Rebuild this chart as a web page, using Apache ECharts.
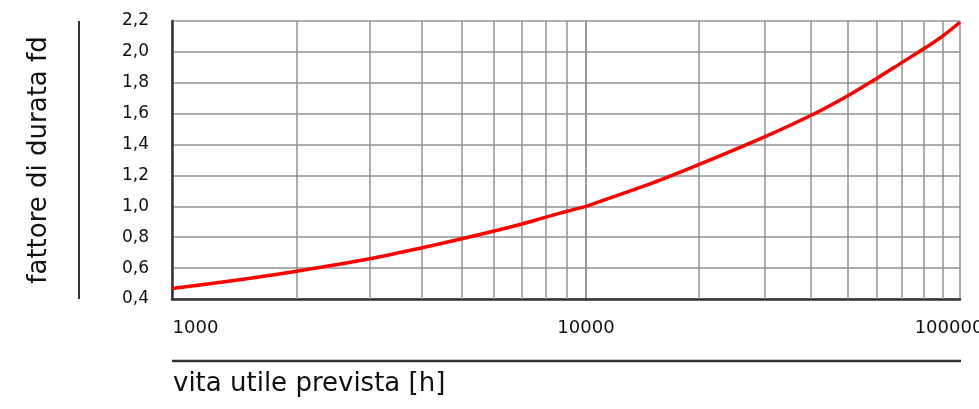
<!DOCTYPE html>
<html>
<head>
<meta charset="utf-8">
<script src="https://cdn.jsdelivr.net/npm/echarts@6/dist/echarts.min.js"></script>
<style>
  html, body { margin: 0; padding: 0; background: #fff; }
  #main { width: 979px; height: 409px; }
</style>
</head>
<body>
<div id="main"></div>
<script>
// ore di vita (asse logaritmico) e fattore di durata
const hours = [1000, 1500, 2000, 3000, 4000, 5000, 6000, 7000, 8000, 9000, 10000,
  15000, 20000, 30000, 40000, 50000, 60000, 70000, 80000, 90000, 100000];
const fd = [0.468, 0.53, 0.58, 0.66, 0.73, 0.79, 0.84, 0.886, 0.93, 0.968, 1.0,
  1.15, 1.27, 1.45, 1.59, 1.715, 1.83, 1.932, 2.02, 2.104, 2.192];

// linee secondarie della griglia (2..9 per decade)
const minorLow = [2000, 3000, 4000, 5000, 6000, 7000, 8000, 9000];
const minorHigh = [20000, 30000, 40000, 50000, 60000, 70000, 80000, 90000];

const yMin = 0.4;
const yMax = 2.2;
const yStep = 0.2;

const gridColor = "#939393";
const axisColor = "#333333";
const textColor = "#111111";
const font = "DejaVu Sans";

const pts = hours.map((h, i) => [h, fd[i]]);
const lowPts = pts.filter((p) => p[0] <= 10000);
const highPts = pts.filter((p) => p[0] >= 10000);

const chart = echarts.init(document.getElementById("main"));

const splitLine = { show: true, lineStyle: { color: gridColor, width: 1.5 } };

const yAxisBase = (idx) => ({
  type: "value",
  gridIndex: idx,
  min: yMin,
  max: yMax,
  interval: yStep,
  axisTick: { show: false },
  splitLine: splitLine,
});

const minorMark = (list) => ({
  silent: true,
  z: 1,
  symbol: "none",
  label: { show: false },
  lineStyle: { color: gridColor, width: 1.5, type: "solid" },
  emphasis: { disabled: true },
  data: list.map((h) => ({ xAxis: h })),
});

const curve = (idx, data, minor) => ({
  type: "line",
  xAxisIndex: idx,
  yAxisIndex: idx,
  z: 10,
  smooth: 0.3,
  showSymbol: false,
  lineStyle: { color: "#ff0000", width: 3.5 },
  data: data,
  markLine: minorMark(minor),
});

const option = {
  animation: false,
  textStyle: { fontFamily: font },
  grid: [
    { left: 172, top: 21, width: 414, height: 278, outerBoundsMode: "none", containLabel: false },
    { left: 586, top: 21, width: 374, height: 278, outerBoundsMode: "none", containLabel: false },
  ],
  xAxis: [
    {
      type: "log",
      logBase: 10,
      gridIndex: 0,
      min: 1000,
      max: 10000,
      axisLine: { lineStyle: { color: axisColor, width: 2.5 } },
      axisTick: { show: false },
      splitLine: splitLine,
      axisLabel: {
        fontSize: 18,
        color: textColor,
        fontFamily: font,
        margin: 20,
        // la prima etichetta parte dall'inizio dell'asse
        formatter: (v) => (Math.round(v) === 1000 ? "{first|" + Math.round(v) + "}" : String(Math.round(v))),
        rich: {
          first: { fontSize: 18, color: textColor, fontFamily: font, padding: [0, 0, 0, 47] },
        },
      },
    },
    {
      type: "log",
      logBase: 10,
      gridIndex: 1,
      min: 10000,
      max: 100000,
      axisLine: { lineStyle: { color: axisColor, width: 2.5 } },
      axisTick: { show: false },
      splitLine: splitLine,
      axisLabel: {
        fontSize: 18,
        color: textColor,
        fontFamily: font,
        margin: 20,
        showMinLabel: false,
        padding: [0, 22, 0, 0],
        formatter: (v) => String(Math.round(v)),
      },
    },
  ],
  yAxis: [
    Object.assign(yAxisBase(0), {
      axisLine: { show: true, lineStyle: { color: axisColor, width: 2.5 } },
      axisLabel: {
        fontSize: 17,
        color: textColor,
        fontFamily: font,
        margin: 23,
        formatter: (v) => v.toFixed(1).replace(".", ","),
      },
      name: "fattore di durata fd",
      nameLocation: "middle",
      nameGap: 120,
      nameTextStyle: { fontSize: 26, color: textColor, fontFamily: font },
    }),
    Object.assign(yAxisBase(1), {
      axisLine: { show: false },
      axisLabel: { show: false },
    }),
  ],
  graphic: [
    {
      type: "line",
      shape: { x1: 79, y1: 21, x2: 79, y2: 299 },
      style: { stroke: axisColor, lineWidth: 2 },
    },
    {
      type: "line",
      shape: { x1: 172, y1: 361, x2: 961, y2: 361 },
      style: { stroke: axisColor, lineWidth: 2.5 },
    },
    {
      type: "text",
      x: 173,
      y: 371,
      style: {
        text: "vita utile prevista [h]",
        font: "26px " + font,
        fill: textColor,
        textVerticalAlign: "top",
      },
    },
  ],
  series: [
    curve(0, lowPts, minorLow),
    curve(1, highPts, minorHigh),
  ],
};

chart.setOption(option);
</script>
</body>
</html>
